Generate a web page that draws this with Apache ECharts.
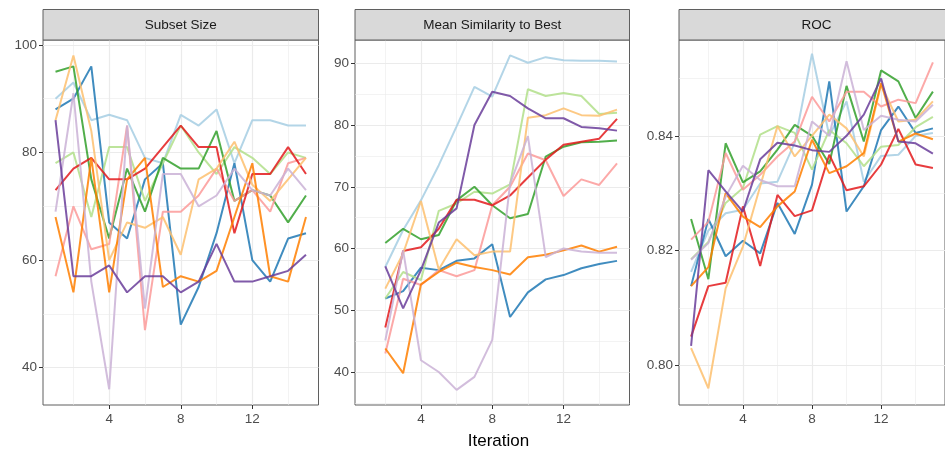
<!DOCTYPE html>
<html><head><meta charset="utf-8">
<script src="https://cdn.jsdelivr.net/npm/echarts@6/dist/echarts.min.js"></script>
<style>html,body{margin:0;padding:0;background:#fff}#c{width:945px;height:453px}</style>
</head><body><div id="c"></div>
<script>
// ---------------- data ----------------
const iterations    = [1,2,3,4,5,6,7,8,9,10,11,12,13,14,15];
const simIterations = [2,3,4,5,6,7,8,9,10,11,12,13,14,15];
const folds   = ['Fold01','Fold02','Fold03','Fold04','Fold05','Fold06','Fold07','Fold08','Fold09','Fold10'];
const palette = ['#A6CEE3','#1F78B4','#B2DF8A','#33A02C','#FB9A99','#E31A1C','#FDBF6F','#FF7F00','#CAB2D6','#6A3D9A'];
const panelTitles = ['Subset Size','Mean Similarity to Best','ROC'];
const xTitle = 'Iteration';

const xTicks = [4,8,12];
const xMinor = [2,6,10,14];
const sizeTicks = [40,60,80,100];
const sizeMinor = [50,70,90];
const simTicks  = [40,50,60,70,80,90];
const simMinor  = [35,45,55,65,75,85];
const rocTicks  = [0.80,0.82,0.84];
const rocMinor  = [0.81,0.83,0.85];

// Subset Size, one row per fold (iterations 1..15)
const subsetSize = [
  [90,93,86,87,86,79,78,87,85,88,78,86,86,85,85],
  [88,90,96,67,64,75,78,48,55,65,78,60,56,64,65],
  [78,80,68,81,81,71,78,85,80,76,81,79,76,80,79],
  [95,96,75,64,77,69,79,77,77,84,71,73,72,67,72],
  [57,70,62,63,85,47,69,69,72,77,71,73,69,78,79],
  [73,77,79,75,75,77,81,85,81,81,65,76,76,81,76],
  [86,98,84,60,67,66,68,61,75,77,82,74,71,75,79],
  [68,54,79,54,75,79,55,57,56,58,68,78,57,56,68],
  [69,91,56,36,85,51,76,76,70,72,77,73,72,77,73],
  [86,57,57,59,54,57,57,54,56,63,56,56,57,58,61]
];
// Mean Similarity to Best, one row per fold (iterations 2..15)
const similarity = [
  [57,63,67.8,73.5,79.8,86.2,84.6,91.3,90.1,91,90.5,90.4,90.4,90.3],
  [51.9,53.1,56.9,56.5,58,58.4,60.7,48.9,52.9,55,55.7,56.8,57.5,58],
  [51.9,56.2,54.9,66.1,67.3,69.2,68.9,70.4,85.8,84.7,85.2,84.7,81.8,82],
  [60.9,63.2,61.5,62.2,67.8,70,67,64.9,65.6,74.9,76.5,77.2,77.3,77.5],
  [43,55.1,54.1,56.5,55.5,56.5,67,70,75.4,74.3,68.5,71.2,70.3,73.8],
  [47.2,59.6,60.2,63.2,67.9,67.9,67,68.6,71.5,74.4,76.8,77.3,77.8,81],
  [53.5,59.2,67.7,56.6,61.5,58.9,59.5,59.5,81.2,81.6,82.7,81.6,81.5,82.5],
  [43.8,39.8,54.2,56.2,57.7,57,56.5,55.8,58.6,59,59.7,60.5,59.5,60.3],
  [45.1,59.7,41.9,40,37.1,39.2,45.2,70.5,78.2,58.6,60,59.5,59.3,59.3],
  [57.1,50.3,56.5,64.2,66.5,80,85.4,84.7,82.7,81.1,81.1,79.7,79.5,79.1]
];
// ROC, one row per fold (iterations 1..15)
const roc = [
  [0.8163,0.8235,0.8265,0.8271,0.8317,0.8320,0.8388,0.8543,0.8400,0.8460,0.8320,0.8365,0.8367,0.8400,0.8405],
  [0.8138,0.8255,0.8190,0.8217,0.8195,0.8283,0.8229,0.8315,0.8495,0.8268,0.8312,0.8410,0.8451,0.8405,0.8413],
  [0.8185,0.8215,0.8283,0.8309,0.8402,0.8417,0.8405,0.8341,0.8410,0.8387,0.8347,0.8381,0.8384,0.8415,0.8433],
  [0.8255,0.8150,0.8387,0.8319,0.8338,0.8376,0.8419,0.8400,0.8351,0.8487,0.8390,0.8514,0.8495,0.8431,0.8477],
  [0.8219,0.8250,0.8370,0.8306,0.8332,0.8364,0.8390,0.8468,0.8425,0.8477,0.8477,0.8451,0.8463,0.8457,0.8528],
  [0.8050,0.8138,0.8144,0.8277,0.8173,0.8297,0.8260,0.8270,0.8367,0.8305,0.8312,0.8350,0.8412,0.8350,0.8344],
  [0.8030,0.7960,0.8134,0.8207,0.8312,0.8417,0.8364,0.8400,0.8437,0.8413,0.8364,0.8489,0.8425,0.8428,0.8460],
  [0.8138,0.8171,0.8300,0.8259,0.8241,0.8277,0.8303,0.8393,0.8335,0.8347,0.8370,0.8492,0.8390,0.8404,0.8394],
  [0.8184,0.8213,0.8294,0.8348,0.8323,0.8312,0.8312,0.8425,0.8400,0.8530,0.8410,0.8435,0.8428,0.8425,0.8454],
  [0.8034,0.8340,0.8303,0.8268,0.8359,0.8388,0.8383,0.8375,0.8372,0.8400,0.8437,0.8500,0.8390,0.8387,0.8369]
];

// ---------------- layout ----------------
const FONT = 'Liberation Sans, Arial, sans-serif';
const panels = [
  {left: 43,  width: 275.5, ymin: 33.07,  ymax: 100.9,  ticks: sizeTicks, minor: sizeMinor, data: subsetSize, xs: iterations, fmt: v => String(v)},
  {left: 355, width: 274.5, ymin: 34.65,  ymax: 93.78,  ticks: simTicks,  minor: simMinor,  data: similarity, xs: simIterations, fmt: v => String(v)},
  {left: 679, width: 275,   ymin: 0.79308, ymax: 0.8567, ticks: rocTicks, minor: rocMinor, data: roc, xs: iterations, fmt: v => v.toFixed(2)}
];
const TOP = 40, HEIGHT = 365;

const grids = [], xAxes = [], yAxes = [], series = [], graphics = [];
panels.forEach((p, i) => {
  grids.push({left: p.left, top: TOP, width: p.width, height: HEIGHT,
    show: true, backgroundColor: '#fff', borderColor: '#5f5f5f', borderWidth: 1, containLabel: false});
  xAxes.push({type: 'value', gridIndex: i, min: 0.3, max: 15.7,
    axisLine: {show: false}, splitLine: {show: false},
    axisTick: {show: true, customValues: xTicks, length: 4, lineStyle: {color: '#333'}},
    axisLabel: {show: true, customValues: xTicks, margin: 7, color: '#4D4D4D', fontSize: 13.5, fontFamily: FONT}});
  yAxes.push({type: 'value', gridIndex: i, min: p.ymin, max: p.ymax,
    axisLine: {show: false}, splitLine: {show: false},
    axisTick: {show: true, customValues: p.ticks, length: 4, lineStyle: {color: '#333'}},
    axisLabel: {show: true, customValues: p.ticks, margin: 6, color: '#4D4D4D', fontSize: 13.5, fontFamily: FONT,
      formatter: p.fmt}});
  // grid lines
  const mk = [];
  xMinor.forEach(v => mk.push({xAxis: v, lineStyle: {width: 0.6}}));
  p.minor.forEach(v => mk.push({yAxis: v, lineStyle: {width: 0.6}}));
  xTicks.forEach(v => mk.push({xAxis: v, lineStyle: {width: 1.2}}));
  p.ticks.forEach(v => mk.push({yAxis: v, lineStyle: {width: 1.2}}));
  series.push({type: 'line', xAxisIndex: i, yAxisIndex: i, data: [], silent: true, z: 1,
    markLine: {silent: true, z: 1, symbol: ['none', 'none'], animation: false, label: {show: false},
      lineStyle: {type: 'solid', color: '#EBEBEB'}, emphasis: {disabled: true}, data: mk}});
  p.data.forEach((row, k) => {
    series.push({name: folds[k], type: 'line', xAxisIndex: i, yAxisIndex: i, z: 3,
      data: row.map((v, j) => [p.xs[j], v]),
      showSymbol: false, symbol: 'none', animation: false, clip: true,
      lineStyle: {color: palette[k], width: 2, opacity: 0.85},
      itemStyle: {color: palette[k]}, emphasis: {disabled: true}});
  });
  graphics.push({type: 'rect', z: 10,
    shape: {x: p.left, y: 9.5, width: p.width, height: 30.5},
    style: {fill: '#D9D9D9', stroke: '#5f5f5f', lineWidth: 1}});
  graphics.push({type: 'text', z: 11, x: p.left + p.width / 2, y: 25,
    style: {text: panelTitles[i], fill: '#1A1A1A', font: '13.5px ' + FONT, align: 'center', verticalAlign: 'middle'}});
});
graphics.push({type: 'text', z: 10, x: 498.5, y: 441,
  style: {text: xTitle, fill: '#000', font: '17px ' + FONT, align: 'center', verticalAlign: 'middle'}});

const chart = echarts.init(document.getElementById('c'), null, {renderer: 'canvas'});
chart.setOption({
  animation: false,
  backgroundColor: '#fff',
  grid: grids, xAxis: xAxes, yAxis: yAxes, series: series, graphic: graphics,
  tooltip: {show: false}
});
</script></body></html>
